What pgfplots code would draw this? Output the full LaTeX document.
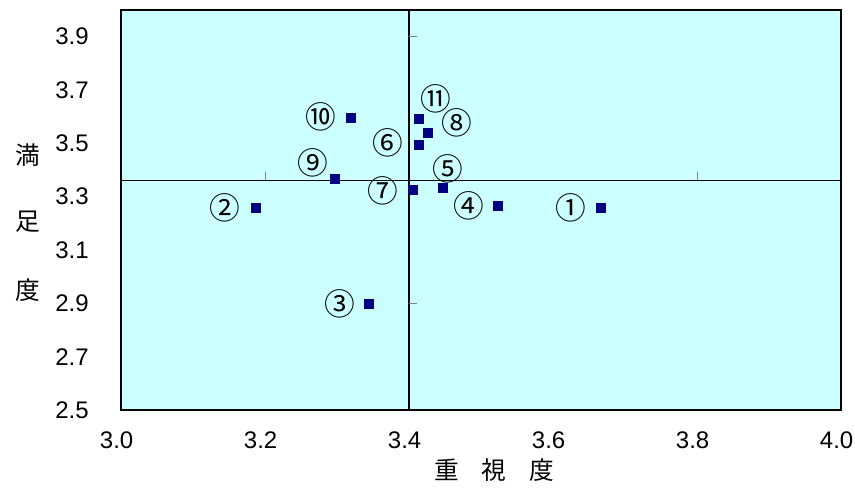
\documentclass[border=0pt]{standalone}
\usepackage{fontspec}
\setmainfont{Liberation Sans}
\newfontfamily\cjk{Noto Sans CJK JP}
\usepackage{pgfplots}
\pgfplotsset{compat=1.18}
\definecolor{bgc}{RGB}{204,255,255}
\definecolor{ptc}{RGB}{0,0,128}
\begin{document}
\begin{tikzpicture}
\begin{axis}[
  name=ax,
  width=540pt, height=300pt, scale only axis,
  xmin=3.0, xmax=4.0, ymin=2.5, ymax=4.0,
  xtick={3.0,3.2,3.4,3.6,3.8,4.0},
  ytick={2.5,2.7,2.9,3.1,3.3,3.5,3.7,3.9},
  major tick length=0pt,
  /pgf/number format/assume math mode=true,
  /pgf/number format/.cd, fixed, fixed zerofill, precision=1,
  /pgfplots/.cd,
  tick label style={font=\fontsize{18}{18}\selectfont, inner sep=0pt},
  yticklabel style={anchor=east, xshift=-24pt},
  xticklabel style={anchor=north, yshift=-16pt, xshift=-3.3pt},
  axis background/.style={fill=bgc},
  axis line style={line width=1.1pt},
  clip=false,
]
\addplot[only marks, mark=square*, mark size=3.3pt, mark options={fill=ptc, draw=ptc}] coordinates {
(3.6667,3.2575) (3.1875,3.2575) (3.3444,2.8975) (3.5236,3.265) (3.4472,3.3325)
(3.4139,3.4938) (3.4056,3.325) (3.4264,3.5388) (3.2972,3.3663) (3.3194,3.595)
(3.4139,3.5913)
};
\draw[line width=0.8pt] (axis cs:3.4,2.5) -- (axis cs:3.4,4.0);
\draw[line width=0.8pt] (axis cs:3.0,3.361) -- (axis cs:4.0,3.361);
\draw[gray, line width=0.6pt] (axis cs:3.4,3.9) -- ([xshift=6pt]axis cs:3.4,3.9);
\draw[gray, line width=0.6pt] (axis cs:3.4,2.9) -- ([xshift=6pt]axis cs:3.4,2.9);
\draw[gray, line width=0.6pt] (axis cs:3.2,3.361) -- ([yshift=6pt]axis cs:3.2,3.361);
\draw[gray, line width=0.6pt] (axis cs:3.8,3.361) -- ([yshift=6pt]axis cs:3.8,3.361);
\begin{scope}[every node/.style={font=\cjk\fontsize{23}{23}\selectfont, inner sep=0pt}]
\node at (axis cs:3.625,3.2575) {①};
\node at (axis cs:3.1444,3.2575) {②};
\node at (axis cs:3.3042,2.8975) {③};
\node at (axis cs:3.4833,3.265) {④};
\node at (axis cs:3.4542,3.40375) {⑤};
\node at (axis cs:3.3708,3.50125) {⑥};
\node at (axis cs:3.3639,3.32125) {⑦};
\node at (axis cs:3.4667,3.57625) {⑧};
\node at (axis cs:3.2667,3.42625) {⑨};
\node at (axis cs:3.2778,3.59875) {⑩};
\node at (axis cs:3.4375,3.665) {⑪};
\end{scope}
\begin{scope}[every node/.style={font=\cjk\fontsize{18.5}{18.5}\selectfont, inner sep=0pt}]
\node at (rel axis cs:-0.129,0.6375) {満};
\node at (rel axis cs:-0.129,0.47) {足};
\node at (rel axis cs:-0.129,0.30) {度};
\node at (rel axis cs:0.4528,-0.15) {重};
\node at (rel axis cs:0.518,-0.15) {視};
\node at (rel axis cs:0.585,-0.15) {度};
\end{scope}
\end{axis}
\pgfresetboundingbox
\path[use as bounding box] ([shift={(-90.75pt,-64.5pt)}]ax.south west) rectangle ([shift={(10.5pt,7.5pt)}]ax.north east);
\end{tikzpicture}
\end{document}
